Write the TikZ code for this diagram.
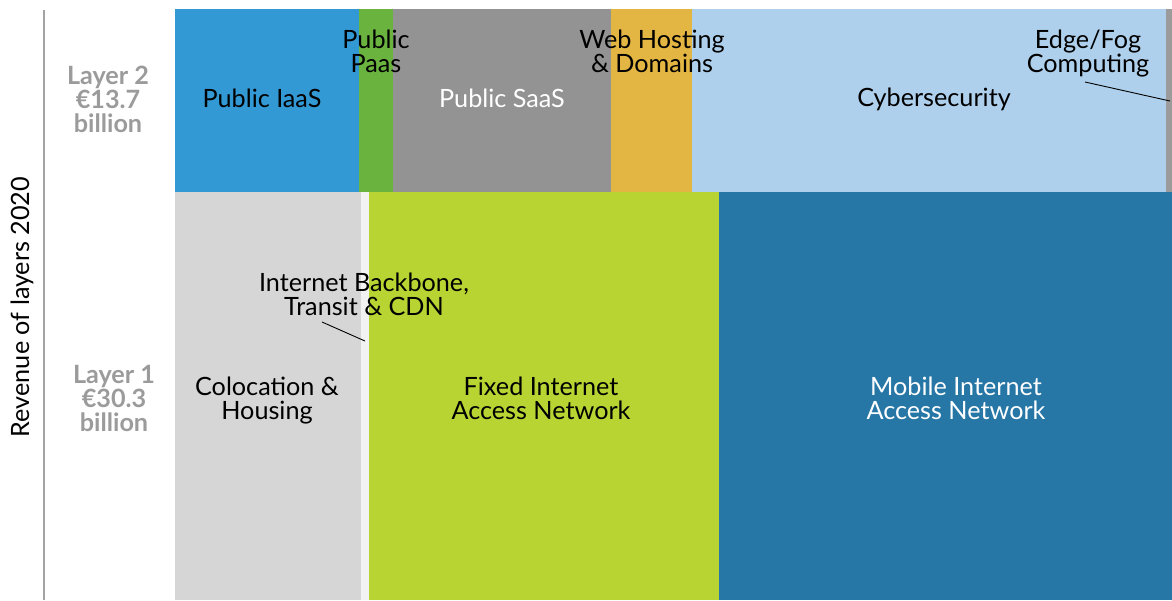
\documentclass[tikz,border=0pt]{standalone}
\usepackage{fontspec}
\setmainfont{Lato}
\definecolor{ciaas}{HTML}{3399D4}
\definecolor{cpaas}{HTML}{6BB33F}
\definecolor{csaas}{HTML}{939393}
\definecolor{cweb}{HTML}{E3B542}
\definecolor{ccyber}{HTML}{AED0EC}
\definecolor{cedge}{HTML}{9B9B9B}
\definecolor{ccolo}{HTML}{D6D6D6}
\definecolor{cbone}{HTML}{F2F2F2}
\definecolor{cfixed}{HTML}{B8D432}
\definecolor{cmobile}{HTML}{2676A6}
\definecolor{clayer}{HTML}{9B9B9B}
\definecolor{caxis}{HTML}{A3A3A3}
\begin{document}
\begin{tikzpicture}[x=0.5pt,y=-0.5pt,
  lbl/.style={font=\fontsize{12.6}{12}\selectfont, align=center, inner sep=0pt, text=black},
  wlbl/.style={lbl, text=white},
  layerlbl/.style={font=\bfseries\fontsize{12.6}{12}\selectfont, align=center, inner sep=0pt, text=clayer},
  leader/.style={draw=black, line width=0.45pt},
  axisline/.style={draw=caxis, line width=1.4pt}]
\useasboundingbox (0,0) rectangle (1172,600);
% layer 2 blocks
\fill[ciaas] (175,9) rectangle (359,192);
\fill[cpaas] (359,9) rectangle (393,192);
\fill[csaas] (393,9) rectangle (611,192);
\fill[cweb] (611,9) rectangle (692,192);
\fill[ccyber] (692,9) rectangle (1166,192);
\fill[cedge] (1166,9) rectangle (1172,192);
% layer 1 blocks
\fill[ccolo] (175,192) rectangle (361,600);
\fill[cbone] (361,192) rectangle (369,600);
\fill[cfixed] (369,192) rectangle (719,600);
\fill[cmobile] (719,192) rectangle (1172,600);
% axis
\draw[axisline] (44,10) -- (44,600);
\node[lbl, rotate=90] (axis) at (22,307) {Revenue of layers 2020};
% layer labels
\node[layerlbl] (l2) at (108,99) {Layer 2\\€13.7\\billion};
\node[layerlbl] (l1) at (114,398) {Layer 1\\€30.3\\billion};
% block labels
\node[lbl] (iaas) at (262,98) {Public IaaS};
\node[lbl] (paas) at (376,51) {Public\\Paas};
\node[wlbl] (saas) at (502,98) {Public SaaS};
\node[lbl] (web) at (652,51) {Web Hosting\\\& Domains};
\node[lbl] (cyber) at (934,99) {Cybersecurity};
\node[lbl] (edge) at (1088,54) {Edge/Fog\\Computing};
\node[lbl] (bone) at (364,294) {Internet Backbone,\\Transit \& CDN};
\node[lbl] (colo) at (267,401) {Colocation \&\\Housing};
\node[lbl] (fixed) at (541,398) {Fixed Internet\\Access Network};
\node[wlbl] (mobile) at (956,398) {Mobile Internet\\Access Network};
% leaders
\coordinate (edgeA) at (1085,82);
\coordinate (edgeB) at (1170,101);
\draw[leader] (edgeA) -- (edgeB);
\coordinate (boneA) at (322,322);
\coordinate (boneB) at (365,341);
\draw[leader] (boneA) -- (boneB);
\end{tikzpicture}
\end{document}
